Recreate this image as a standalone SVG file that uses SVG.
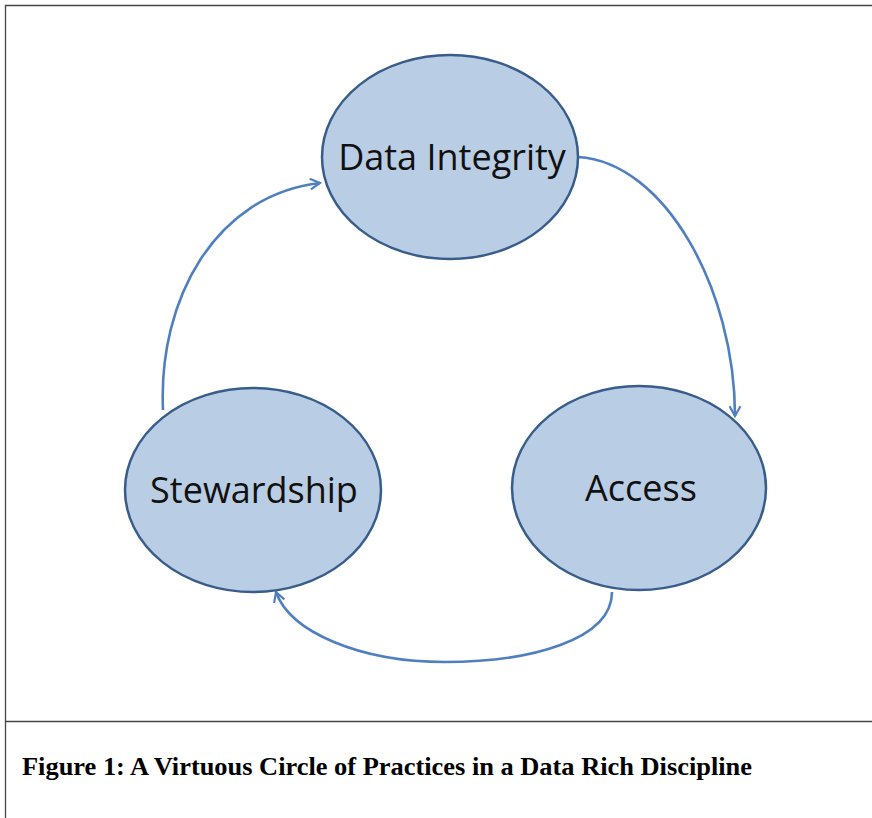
<svg xmlns="http://www.w3.org/2000/svg" width="872" height="818" viewBox="0 0 872 818">
<defs>
<style>
.node ellipse{fill:#b9cde5;stroke:#385d8a;stroke-width:2.5}
.node text{font-family:"Open Sans","Noto Sans","Liberation Sans",sans-serif;font-size:36px;fill:#111;text-anchor:middle}
.conn path{fill:none;stroke:#4f7fbf;stroke-width:2.6;marker-end:url(#ah)}
.frame{stroke:#444;stroke-width:1.3;fill:none}
.cap{font-family:"Liberation Serif","Times New Roman",serif;font-weight:bold;font-size:26px;fill:#000}
</style>
<marker id="ah" viewBox="0 0 12 12" refX="10" refY="6" markerWidth="5" markerHeight="5" markerUnits="strokeWidth" orient="auto">
<path d="M1,1 L10,6 L1,11" fill="none" stroke="#4f7fbf" stroke-width="2"/>
</marker>
</defs>
<rect width="872" height="818" fill="#fff"/>
<g id="frame">
<path class="frame" d="M872,5.5 H5.5 V818"/>
<path class="frame" d="M5.5,721.5 H872"/>
</g>
<g id="connectors" class="conn">
<path d="M163,410 C158,300 215,195 320,183"/>
<path d="M578,157 C665,162 735,290 735,416"/>
<path d="M612,592 C612,640 530,662 445,662 C360,662 290,632 276,592"/>
</g>
<g id="data-integrity" class="node">
<ellipse cx="450" cy="157" rx="128" ry="102"/>
<text x="452" y="170">Data Integrity</text>
</g>
<g id="stewardship" class="node">
<ellipse cx="253" cy="490" rx="128" ry="102"/>
<text x="254" y="503">Stewardship</text>
</g>
<g id="access" class="node">
<ellipse cx="639" cy="488" rx="127" ry="102"/>
<text x="641" y="501">Access</text>
</g>
<text class="cap" x="22" y="775" textLength="730" lengthAdjust="spacingAndGlyphs">Figure 1: A Virtuous Circle of Practices in a Data Rich Discipline</text>
</svg>
